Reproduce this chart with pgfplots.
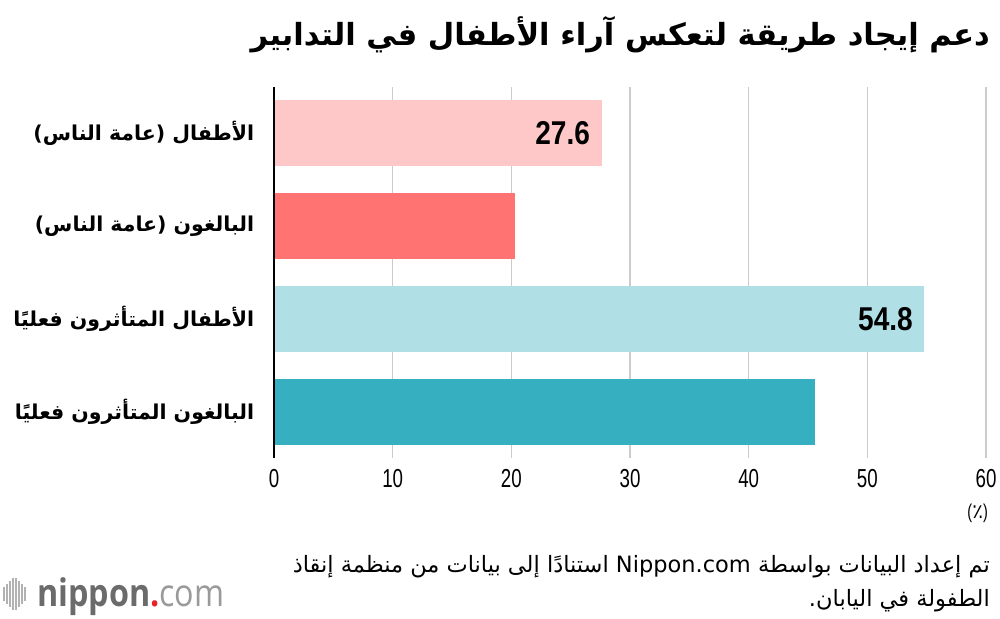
\documentclass[border=0pt]{standalone}
\usepackage{fontspec}
\usepackage{pgfplots}
\pgfplotsset{compat=1.18}
\setmainfont{Liberation Sans}
\TeXXeTstate=1
\newfontfamily\arabicfont[Script=Arabic]{DejaVu Sans}
\newfontfamily\condfont[FakeStretch=0.72]{Liberation Sans}
\newfontfamily\condbold[FakeStretch=0.85]{Liberation Sans Bold}
\newfontfamily\logofont[FakeStretch=0.85]{Open Sans}
\definecolor{cA}{HTML}{FFC8C8}
\definecolor{cB}{HTML}{FF7373}
\definecolor{cC}{HTML}{B0E0E6}
\definecolor{cD}{HTML}{36B0C0}
\definecolor{gridgray}{HTML}{CCCCCC}
\begin{document}
\begin{tikzpicture}
\useasboundingbox (0pt,0pt) rectangle (1000pt,618pt);
\begin{axis}[
  at={(274pt,160pt)}, anchor=south west,
  width=712pt, height=371pt, scale only axis,
  xmin=0, xmax=60, ymin=-0.5, ymax=3.5, y dir=reverse,
  xtick={0,10,20,30,40,50,60}, ytick={0,1,2,3},
  yticklabels={
    {\beginR الأطفال (عامة الناس)\endR},
    {\beginR البالغون (عامة الناس)\endR},
    {\beginR الأطفال المتأثرون فعليًا\endR},
    {\beginR البالغون المتأثرون فعليًا\endR}},
  xmajorgrids, grid style={color=gridgray, line width=1.5pt},
  axis line style={draw=none}, tick style={draw=none},
  /pgf/number format/assume math mode=true,
  xticklabel style={font=\condfont\fontsize{26}{28}\selectfont, yshift=-8pt},
  yticklabel style={font=\arabicfont\bfseries\fontsize{20.5}{24}\selectfont, xshift=-12pt},
  xbar, bar width=66pt, bar shift=0pt,
  clip=false,
]
\addplot[fill=cA, draw=none, nodes near coords, point meta=explicit symbolic,
  nodes near coords style={anchor=east, xshift=-8pt, font=\condbold\fontsize{33}{36}\selectfont, text=black}]
  coordinates {(27.6,0) [27.6]};
\addplot[fill=cB, draw=none] coordinates {(20.3,1)};
\addplot[fill=cC, draw=none, nodes near coords, point meta=explicit symbolic,
  nodes near coords style={anchor=east, xshift=-8pt, font=\condbold\fontsize{33}{36}\selectfont, text=black}]
  coordinates {(54.8,2) [54.8]};
\addplot[fill=cD, draw=none] coordinates {(45.6,3)};
\draw[black, line width=2pt] (axis cs:0,-0.5) -- (axis cs:0,3.5);
\end{axis}
% title
\node[anchor=east, inner sep=0pt] at (990pt,583pt)
  {\arabicfont\bfseries\fontsize{30.5}{36}\selectfont\beginR دعم إيجاد طريقة لتعكس آراء الأطفال في التدابير\endR};
% unit
\node[anchor=east, inner sep=0pt] at (988pt,105pt)
  {\condfont\fontsize{20}{22}\selectfont (\arabicfont ٪\condfont)};
% footer
\node[anchor=east, inner sep=0pt] at (990pt,51pt)
  {\arabicfont\fontsize{22.5}{26}\selectfont\beginR تم إعداد البيانات بواسطة Nippon.com استنادًا إلى بيانات من منظمة إنقاذ\endR};
\node[anchor=east, inner sep=0pt] at (990pt,17pt)
  {\arabicfont\fontsize{22.5}{26}\selectfont\beginR الطفولة في اليابان.\endR};
% logo
\foreach \x/\h in {4/7,7/10,10/13,13/16,16/16,19/13,22/10,25/7}
  \draw[gray!60, line width=1.4pt] (\x pt,{(24-\h) * 1pt}) -- (\x pt,{(24+\h) * 1pt});
\node[anchor=base west, inner sep=0pt] at (37pt,12pt)
  {\logofont\fontsize{38}{42}\selectfont\textcolor[HTML]{6B6B6B}{\bfseries nippon}\textcolor[HTML]{E8202A}{\bfseries .}\textcolor[HTML]{9A9A9A}{com}};
\end{tikzpicture}
\end{document}
